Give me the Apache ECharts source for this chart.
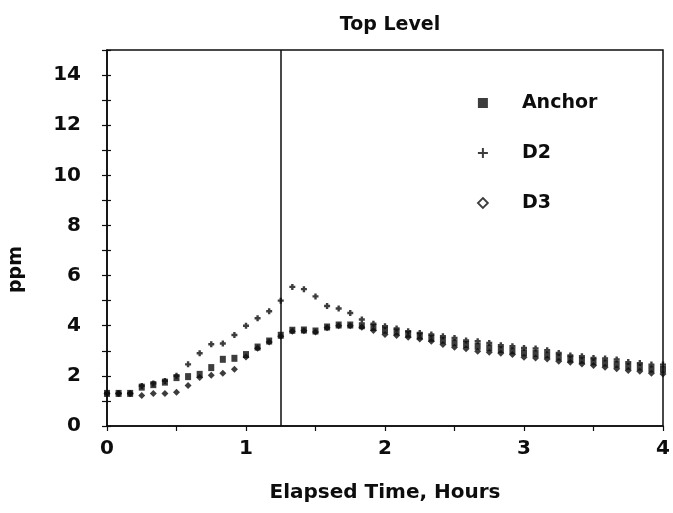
<!DOCTYPE html>
<html>
<head>
<meta charset="utf-8">
<script src="https://cdn.jsdelivr.net/npm/echarts@6/dist/echarts.min.js"></script>
<style>html,body{margin:0;padding:0;background:#fff}#c{width:673px;height:513px}</style>
</head>
<body>
<div id="c"></div>
<script>
var minutes = [0,5,10,15,20,25,30,35,40,45,50,55,60,65,70,75,80,85,90,95,100,105,110,115,120,125,130,135,140,145,150,155,160,165,170,175,180,185,190,195,200,205,210,215,220,225,230,235,240];
var anchor = [1.3,1.3,1.3,1.55,1.65,1.75,1.93,1.97,2.06,2.33,2.66,2.7,2.85,3.15,3.39,3.62,3.82,3.83,3.79,3.95,4.03,4.03,4.0,3.93,3.82,3.75,3.66,3.59,3.5,3.42,3.32,3.25,3.18,3.12,3.05,3.0,2.92,2.89,2.84,2.75,2.67,2.62,2.56,2.51,2.46,2.38,2.35,2.27,2.26];
var d2 = [1.3,1.3,1.3,1.6,1.7,1.8,2.0,2.46,2.9,3.26,3.29,3.63,4.0,4.3,4.58,5.0,5.55,5.46,5.17,4.79,4.69,4.51,4.25,4.08,3.98,3.89,3.78,3.71,3.65,3.58,3.51,3.41,3.38,3.31,3.22,3.18,3.11,3.09,3.02,2.91,2.81,2.78,2.71,2.69,2.65,2.55,2.51,2.45,2.45];
var d3 = [1.3,1.3,1.3,1.22,1.3,1.3,1.35,1.62,1.93,2.02,2.1,2.26,2.75,3.1,3.35,3.58,3.78,3.8,3.75,3.92,4.0,4.0,3.94,3.81,3.65,3.61,3.54,3.47,3.38,3.25,3.14,3.08,2.98,2.94,2.9,2.85,2.74,2.71,2.67,2.58,2.54,2.47,2.41,2.34,2.28,2.21,2.18,2.1,2.07];
var markerTime = [1.25];
var titleText = 'Top Level';
var xName = 'Elapsed Time, Hours';
var yName = 'ppm';

function pairs(v){ return minutes.map(function(m,i){ return [m/60, v[i]]; }); }

var FONT = 'DejaVu Sans';
var INK = '#0d0d0d';
var plusPath = 'path://M4,0H6V4H10V6H6V10H4V6H0V4H4Z';
var fatPlus = 'path://M3,0H7V3H10V7H7V10H3V7H0V3H3Z';

var chart = echarts.init(document.getElementById('c'), null, {renderer:'canvas'});
chart.setOption({
  backgroundColor:'#fff',
  animation:false,
  title:{text:titleText,left:385,textAlign:'center',top:11,textStyle:{fontFamily:FONT,fontSize:19,fontWeight:'bold',color:INK}},
  grid:{left:107,right:10,top:50,bottom:87,show:true,borderColor:INK,borderWidth:1.5,backgroundColor:'transparent'},
  legend:{
    orient:'vertical',left:472,top:87,itemWidth:10,itemHeight:10,itemGap:28,
    textStyle:{fontFamily:FONT,fontSize:19,fontWeight:'bold',color:INK,lineHeight:22,padding:[0,0,0,29]},
    data:[
      {name:'Anchor',icon:'rect',itemStyle:{color:INK}},
      {name:'D2',icon:plusPath,itemStyle:{color:INK}},
      {name:'D3',icon:'diamond',itemStyle:{color:'#fff',borderColor:INK,borderWidth:1.8}}
    ]
  },
  graphic:[{type:'text',left:7,top:246,rotation:Math.PI/2,style:{text:yName,font:'bold 19px "DejaVu Sans"',fill:INK}}],
  xAxis:{
    type:'value',min:0,max:4,interval:0.5,
    name:xName,nameLocation:'middle',nameGap:57,
    nameTextStyle:{fontFamily:FONT,fontSize:20,fontWeight:'bold',color:INK},
    axisLine:{lineStyle:{color:INK,width:1.6}},
    axisTick:{length:5,lineStyle:{color:INK,width:1.2}},
    axisLabel:{margin:13,fontFamily:FONT,fontSize:20,fontWeight:'bold',color:INK,formatter:function(v){return (v%1===0)?String(v):'';}},
    splitLine:{show:false}
  },
  yAxis:[{
    type:'value',min:0,max:15,interval:1,
    axisLine:{lineStyle:{color:INK,width:1.6}},
    axisTick:{length:5,lineStyle:{color:INK,width:1.2}},
    axisLabel:{margin:26,fontFamily:FONT,fontSize:20,fontWeight:'bold',color:INK,interval:1,formatter:function(v){return v%2===0?String(v):'';}},
    splitLine:{show:false}
  },{
    type:'value',min:0,max:15,interval:1,position:'left',
    axisLine:{show:false},
    axisTick:{inside:true,length:4,lineStyle:{color:INK,width:1.2}},
    axisLabel:{show:false},splitLine:{show:false}
  }],
  series:[
    {name:'Anchor',type:'scatter',symbol:'rect',symbolSize:[6,7],itemStyle:{color:INK},data:pairs(anchor),
     markLine:{silent:true,symbol:'none',label:{show:false},lineStyle:{color:INK,width:1.5,type:'solid'},data:[{xAxis:markerTime[0]}]}},
    {name:'D2',type:'scatter',symbol:fatPlus,symbolSize:6,itemStyle:{color:INK},data:pairs(d2)},
    {name:'D3',type:'scatter',symbol:'diamond',symbolSize:7,itemStyle:{color:INK},data:pairs(d3)}
  ]
});
</script>
</body>
</html>
